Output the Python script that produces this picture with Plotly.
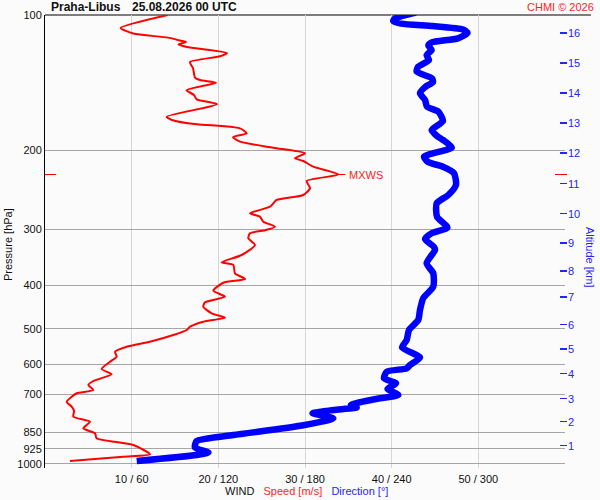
import numpy as np
import plotly.graph_objects as go

# ---- data ----
speed_p = [100.0, 106.9, 110.0, 112.3, 114.3, 114.8, 116.3, 117.8, 121.5, 123.6,
           127.3, 131.4, 137.8, 139.6, 141.5, 147.1, 150.7, 154.1, 158.0, 168.5,
           171.3, 175.2, 176.7, 178.8, 183.4, 187.2, 191.5, 197.5, 203.2, 208.5,
           211.4, 217.7, 226.6, 234.3, 243.2, 251.7, 258.2, 267.3, 276.5, 281.3,
           288.6, 296.1, 301.2, 306.3, 314.3, 325.3, 342.4, 355.5, 360.4, 376.1,
           387.3, 394.7, 411.2, 424.0, 436.4, 446.4, 461.7, 472.2, 482.0, 494.6,
           503.0, 516.1, 534.1, 548.0, 562.2, 576.8, 591.8, 614.4, 631.3, 653.4,
           666.9, 684.2, 695.9, 708.2, 726.6, 745.4, 762.0, 784.6, 805.0, 832.7,
           854.4, 876.6, 907.2, 951.5, 963.3, 984.8]
speed_ms = [14.16, 8.73, 10.19, 14.19, 15.81, 16.27, 15.40, 16.38, 21.00, 20.19,
            16.73, 17.08, 17.31, 17.88, 19.73, 16.33, 17.19, 17.50, 19.85, 14.04,
            14.65, 17.54, 20.42, 22.50, 23.27, 21.69, 22.50, 26.34, 30.00, 28.84,
            29.80, 30.96, 33.86, 30.19, 30.58, 29.80, 26.73, 25.96, 23.65, 24.81,
            25.19, 26.54, 25.50, 23.65, 23.46, 24.23, 22.69, 20.39, 21.73, 21.92,
            23.08, 20.57, 19.42, 20.77, 18.46, 18.27, 19.23, 20.77, 18.27, 16.73,
            16.35, 14.80, 12.11, 9.43, 8.08, 8.27, 7.50, 6.54, 7.70, 5.57,
            5.00, 5.57, 3.66, 3.08, 2.50, 3.08, 3.35, 3.27, 5.19, 4.42,
            5.77, 5.96, 10.19, 12.11, 9.03, 2.88]

dir_p = [98.8, 101.8, 103.1, 104.5, 105.8, 107.7, 109.7, 112.7, 115.1, 116.9,
         119.7, 122.8, 126.0, 130.6, 133.7, 138.4, 141.0, 144.7, 149.4, 154.6,
         160.0, 164.2, 172.2, 180.3, 186.0, 189.8, 197.3, 206.8, 212.5, 217.7,
         225.2, 239.1, 251.7, 262.6, 281.3, 297.4, 306.3, 315.4, 328.6, 333.7,
         357.3, 376.1, 402.8, 426.9, 454.0, 477.9, 503.0, 529.5, 550.2, 579.2,
         601.9, 612.2, 622.9, 644.4, 661.1, 680.7, 702.0, 714.0, 729.5, 738.9,
         748.4, 758.1, 771.0, 791.1, 820.8, 861.8, 888.8, 918.9, 942.7, 954.9,
         984.8]
dir_deg = [256.8, 242.3, 241.1, 246.5, 268.6, 289.4, 292.5, 285.9, 267.7, 265.4,
           267.7, 264.2, 265.8, 258.2, 257.3, 267.9, 268.6, 263.1, 259.6, 263.1,
           264.5, 272.3, 275.5, 267.7, 271.4, 275.5, 281.6, 262.4, 265.2, 275.5,
           283.2, 284.5, 279.2, 271.2, 271.4, 278.6, 267.7, 263.1, 269.3, 270.0,
           264.2, 268.8, 268.8, 261.9, 259.6, 258.4, 252.0, 250.4, 247.2, 259.6,
           252.7, 250.4, 236.6, 234.7, 243.0, 237.1, 244.6, 231.9, 217.4, 211.8,
           215.8, 199.6, 185.2, 199.6, 178.0, 130.4, 105.0, 103.8, 113.1, 105.0,
           63.5]

p_ticks = [100, 200, 300, 400, 500, 600, 700, 850, 925, 1000]
spd_ticks = [10, 20, 30, 40, 50, 60]
spd_ticktext = ["10 / 60", "20 / 120", "30 / 180", "40 / 240", "50 / 300", ""]
alt_km = [1, 2, 3, 4, 5, 6, 7, 8, 9, 10, 11, 12, 13, 14, 15, 16]
alt_p = [910.5, 805.2, 715.3, 629.3, 554.4, 489.5, 424.9, 371.7, 322.0, 277.0,
         237.5, 202.9, 174.0, 149.2, 127.9, 109.7]

station = "Praha-Libus"
stamp = "25.08.2026 00 UTC"
credit = "CHMI © 2026"

# ---- figure ----
FONT = "Arial, Liberation Sans, sans-serif"
RED = "#ff0000"
BLUE = "#0000ff"
TXT_BLUE = "#2424ff"
TXT_RED = "#ff2424"
W, H = 600, 500
ML, MR, MT, MB = 45, 33, 15, 32
PW = W - ML - MR
PH = H - MT - MB
xdom_end = 520 / PW
yrange = [np.log10(1020.8), 2.0]

fig = go.Figure()
fig.add_trace(go.Scatter(x=speed_ms, y=speed_p, mode="lines",
                         line=dict(color=RED, width=2, shape="spline", smoothing=0.6),
                         xaxis="x", yaxis="y", hoverinfo="skip"))
fig.add_trace(go.Scatter(x=dir_deg, y=dir_p, mode="lines", cliponaxis=False,
                         line=dict(color=BLUE, width=6.5, shape="spline", smoothing=0.6),
                         xaxis="x2", yaxis="y", hoverinfo="skip"))

imax = int(np.argmax(speed_ms))
mx_s, mx_p = speed_ms[imax], speed_p[imax]

shapes = [
    dict(type="line", xref="paper", yref="paper", x0=0, x1=(591 - ML) / PW, y0=1, y1=1,
         line=dict(color="black", width=1.2), layer="below"),
    dict(type="line", xref="paper", yref="y", x0=0, x1=11 / PW, y0=mx_p, y1=mx_p,
         line=dict(color=RED, width=1)),
    dict(type="line", xref="paper", yref="y", x0=(555 - ML) / PW, x1=(567 - ML) / PW,
         y0=mx_p, y1=mx_p, line=dict(color=RED, width=1)),
    dict(type="line", xref="x", yref="y", x0=mx_s, x1=mx_s + 0.8, y0=mx_p, y1=mx_p,
         line=dict(color=RED, width=1)),
]

ytop = 1 + (MT - 7) / PH
annotations = [
    dict(text="<b>" + station + "</b>", xref="paper", yref="paper", x=(49 - ML) / PW, y=ytop,
         xanchor="left", yanchor="middle", showarrow=False, font=dict(size=12, color="#111", family=FONT)),
    dict(text="<b>" + stamp + "</b>", xref="paper", yref="paper", x=(130 - ML) / PW, y=ytop,
         xanchor="left", yanchor="middle", showarrow=False, font=dict(size=12, color="#111", family=FONT)),
    dict(text=credit, xref="paper", yref="paper", x=(596 - ML) / PW, y=ytop,
         xanchor="right", yanchor="middle", showarrow=False, font=dict(size=11, color=TXT_RED, family=FONT)),
    dict(text="Pressure [hPa]", xref="paper", yref="paper", x=(8 - ML) / PW, y=(H - MB - 245) / PH,
         xanchor="center", yanchor="middle", textangle=-90, showarrow=False,
         font=dict(size=11, color="#111", family=FONT)),
    dict(text="Altitude [km]", xref="paper", yref="paper", x=(590 - ML) / PW, y=(H - MB - 257) / PH,
         xanchor="center", yanchor="middle", textangle=90, showarrow=False,
         font=dict(size=11, color=TXT_BLUE, family=FONT)),
    dict(text="WIND   <span style='color:" + TXT_RED + "'>Speed [m/s]</span>   "
              "<span style='color:" + TXT_BLUE + "'>Direction [°]</span>",
         xref="paper", yref="paper", x=(306 - ML) / PW, y=(H - MB - 491) / PH,
         xanchor="center", yanchor="middle", showarrow=False,
         font=dict(size=11, color="#111", family=FONT)),
    dict(text="MXWS", xref="x", yref="y", x=mx_s, y=float(np.log10(mx_p)), xanchor="left",
         yanchor="middle", xshift=9, showarrow=False, font=dict(size=11, color=TXT_RED, family=FONT)),
]

fig.update_layout(
    width=W, height=H,
    margin=dict(l=ML, r=MR, t=MT, b=MB, pad=0, autoexpand=False),
    paper_bgcolor="#fbfbfb", plot_bgcolor="#fbfbfb",
    showlegend=False,
    font=dict(family=FONT, size=11, color="#111"),
    xaxis=dict(domain=[0, xdom_end], range=[0, 60], tickmode="array", tickvals=spd_ticks,
               ticktext=spd_ticktext, showgrid=True, gridcolor="#d6d6d6", gridwidth=1,
               zeroline=False, showline=False, ticks="", automargin=False,
               ticklabelstandoff=3, tickfont=dict(size=11, color="#111")),
    xaxis2=dict(overlaying="x", range=[0, 360], visible=False),
    yaxis=dict(type="log", range=yrange, tickmode="array", tickvals=p_ticks,
               ticktext=[str(v) for v in p_ticks], showgrid=True, gridcolor="#a6a6a6",
               gridwidth=1, zeroline=False, showline=True, linecolor="black", linewidth=1,
               ticks="", automargin=False, tickfont=dict(size=11, color="#111")),
    yaxis2=dict(type="log", range=yrange, overlaying="y", anchor="free", position=1.0,
                side="right", tickmode="array", tickvals=alt_p,
                ticktext=[str(v) for v in alt_km], showgrid=False, zeroline=False,
                showline=False, ticks="inside", ticklen=7, tickwidth=1.5, tickcolor=TXT_BLUE,
                automargin=False, tickfont=dict(size=11, color=TXT_BLUE)),
    shapes=shapes, annotations=annotations,
)
# invisible trace to activate yaxis2
fig.add_trace(go.Scatter(x=[None], y=[None], yaxis="y2", xaxis="x", showlegend=False))

fig.write_html("out.html", config={"displayModeBar": False, "staticPlot": True},
               post_script="document.body.style.margin='0';document.body.style.overflow='hidden';")
